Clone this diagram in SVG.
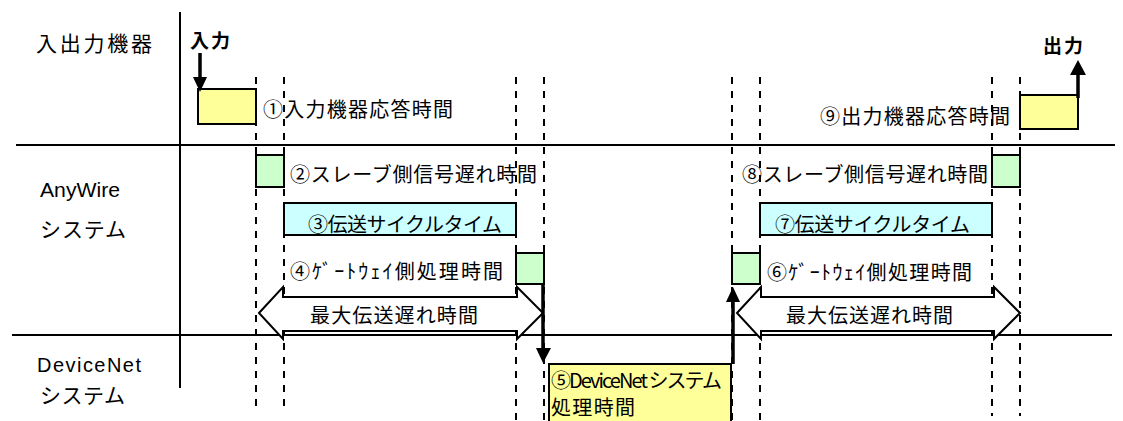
<svg xmlns="http://www.w3.org/2000/svg" width="1123" height="421" viewBox="0 0 1123 421">
<style>
text{font-family:"Noto Sans CJK JP","Noto Sans",sans-serif;fill:#000}
.lbl{font-size:20px}
.side{font-size:21px}
.lat{font-size:20px;font-family:"Liberation Sans","Noto Sans",sans-serif}
.bold{font-size:19px;font-weight:bold}
.axis{stroke:#000;stroke-width:2;fill:none}
.dash{stroke:#000;stroke-width:2;stroke-dasharray:7 7;fill:none}
.box{stroke:#000;stroke-width:2}
.y{fill:#FFFF99}
.g{fill:#CCFFCC}
.c{fill:#CCFFFF}
.thick{stroke:#000;stroke-width:3.5;fill:none}
.head{fill:#000}
.blk{fill:#fff;stroke:#000;stroke-width:2;stroke-linejoin:miter}
</style>
<rect width="1123" height="421" fill="#fff"/>
<g id="axes">
<line class="axis" x1="180" y1="12" x2="180" y2="388"/>
<line class="axis" x1="16" y1="145" x2="1115" y2="145"/>
<line class="axis" x1="12" y1="335" x2="1112" y2="335"/>
</g>
<g id="guides">
<line class="dash" x1="256" y1="77" x2="256" y2="408"/>
<line class="dash" x1="284" y1="77" x2="284" y2="408"/>
<line class="dash" x1="516" y1="77" x2="516" y2="421"/>
<line class="dash" x1="544" y1="77" x2="544" y2="421"/>
<line class="dash" x1="732" y1="77" x2="732" y2="421"/>
<line class="dash" x1="760" y1="77" x2="760" y2="421"/>
<line class="dash" x1="992" y1="77" x2="992" y2="416"/>
<line class="dash" x1="1020" y1="77" x2="1020" y2="416"/>
</g>
<g id="row-labels">
<text class="side" x="36" y="51" textLength="116" lengthAdjust="spacing">入出力機器</text>
<text class="lat" x="40" y="197" textLength="80" lengthAdjust="spacingAndGlyphs">AnyWire</text>
<text class="side" x="40" y="237" textLength="86" lengthAdjust="spacing">システム</text>
<text class="lat" x="37" y="372" textLength="104" lengthAdjust="spacing">DeviceNet</text>
<text class="side" x="40" y="403" textLength="85" lengthAdjust="spacing">システム</text>
</g>
<g id="node1">
<rect class="box y" x="198" y="89" width="58" height="35"/>
<text class="lbl" x="263" y="117" textLength="190" lengthAdjust="spacing">①入力機器応答時間</text>
</g>
<g id="node2">
<rect class="box g" x="256" y="155" width="28" height="32"/>
<text class="lbl" x="290" y="182" textLength="247" lengthAdjust="spacing">②スレーブ側信号遅れ時間</text>
</g>
<g id="node3">
<rect class="box c" x="284" y="203" width="232" height="32"/>
<text class="lbl" x="308" y="232" textLength="194" lengthAdjust="spacing">③伝送サイクルタイム</text>
</g>
<g id="node4">
<rect class="box g" x="516" y="253" width="28" height="31"/>
<text class="lbl" x="290" y="279" textLength="213" lengthAdjust="spacing">④ｹﾞｰﾄｳｪｲ側処理時間</text>
</g>
<g id="node5">
<rect class="box y" x="549" y="364" width="182" height="70"/>
<text class="lbl" x="551" y="388" textLength="171" lengthAdjust="spacing">⑤DeviceNet システム</text>
<text class="lbl" x="551" y="415" textLength="84" lengthAdjust="spacing">処理時間</text>
</g>
<g id="node6">
<rect class="box g" x="732" y="253" width="28" height="31"/>
<text class="lbl" x="767" y="280" textLength="205" lengthAdjust="spacing">⑥ｹﾞｰﾄｳｪｲ側処理時間</text>
</g>
<g id="node7">
<rect class="box c" x="760" y="203" width="232" height="32"/>
<text class="lbl" x="775" y="232" textLength="195" lengthAdjust="spacing">⑦伝送サイクルタイム</text>
</g>
<g id="node8">
<rect class="box g" x="992" y="155" width="28" height="32"/>
<text class="lbl" x="742" y="182" textLength="246" lengthAdjust="spacing">⑧スレーブ側信号遅れ時間</text>
</g>
<g id="node9">
<rect class="box y" x="1020" y="95" width="58" height="34"/>
<text class="lbl" x="820" y="124" textLength="190" lengthAdjust="spacing">⑨出力機器応答時間</text>
</g>
<g id="delay-left">
<polygon class="blk" points="259,313 283,287 283,297 517,297 517,287 543,313 517,339 517,331 283,331 283,339"/>
<text class="lbl" x="310" y="323" textLength="168" lengthAdjust="spacing">最大伝送遅れ時間</text>
</g>
<g id="delay-right">
<polygon class="blk" points="737,313 761,287 761,297 994,297 994,287 1020,313 994,339 994,331 761,331 761,339"/>
<text class="lbl" x="786" y="323" textLength="167" lengthAdjust="spacing">最大伝送遅れ時間</text>
</g>
<g id="connectors">
<text class="bold" x="190" y="48" textLength="40" lengthAdjust="spacing">入力</text>
<line class="thick" x1="200" y1="53" x2="200" y2="78"/>
<polygon class="head" points="193,77 207,77 200,92"/>
<text class="bold" x="1043" y="53" textLength="40" lengthAdjust="spacing">出力</text>
<line class="thick" x1="1078" y1="98" x2="1078" y2="74"/>
<polygon class="head" points="1070,75 1086,75 1078,60"/>
<line class="thick" x1="543" y1="284" x2="543" y2="349"/>
<polygon class="head" points="536,348 551,348 543,363"/>
<line class="thick" x1="733" y1="364" x2="733" y2="301"/>
<polygon class="head" points="726,302 740,302 733,287"/>
</g>
</svg>
